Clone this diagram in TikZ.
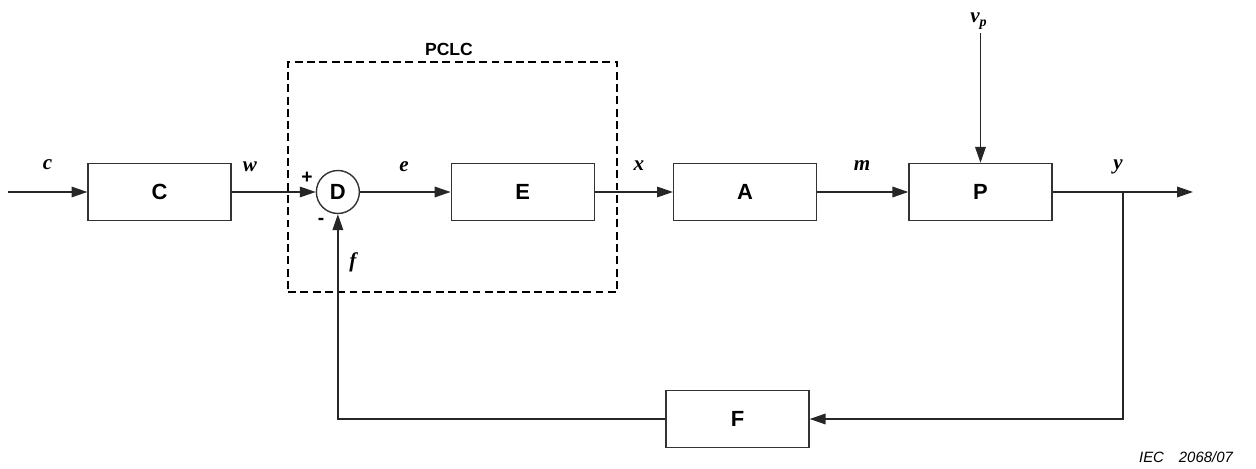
\documentclass[tikz,border=0pt]{standalone}
\usepackage{fontspec}
\setmainfont{Liberation Serif}
\setsansfont{Liberation Sans}
\usepackage{tikz}
\usetikzlibrary{arrows.meta, positioning}

\begin{document}
\begin{tikzpicture}[
    x=0.02cm, y=-0.02cm,
    node distance=1.7cm,
    block/.style={draw=black!80, line width=0.8pt, rectangle, minimum height=1.14cm, minimum width=2.86cm, inner sep=0pt, font=\fontsize{12.5}{14}\selectfont\sffamily\bfseries},
    sum/.style={draw=black!80, line width=0.8pt, circle, minimum size=0.86cm, inner sep=0pt, font=\fontsize{12.5}{14}\selectfont\sffamily\bfseries},
    frame/.style={draw, line width=1.2pt, dash pattern=on 4.5pt off 2.5pt, rectangle, minimum width=6.58cm, minimum height=4.6cm, inner sep=0pt},
    sig/.style={anchor=base, inner sep=0pt, font=\fontsize{12}{14}\selectfont\bfseries\itshape},
    sign/.style={inner sep=0pt, font=\fontsize{11}{13}\selectfont\sffamily\bfseries},
    ttl/.style={inner sep=0pt, font=\fontsize{10}{12}\selectfont\sffamily\bfseries},
    note/.style={inner sep=0pt, font=\fontsize{8.5}{10}\selectfont\sffamily\itshape},
    line/.style={draw=black!85, line width=0.8pt, -{Triangle[length=9pt,width=6pt]}}
]
    \useasboundingbox (0,0) rectangle (1256,469);

    % PCLC frame
    \node[frame] (pclc) at (452.5,177) {};
    \node[ttl] (lpclc) at (449,49) {PCLC};

    % Forward path
    \node[block] (C) at (159.5,192) {C};
    \node[sum, right=1.68cm of C] (D) {D};
    \node[block, right=1.81cm of D] (E) {E};
    \node[block, right=1.56cm of E] (A) {A};
    \node[block, right=1.82cm of A] (P) {P};
    \node[block] (F) at (737.5,419) {F};

    \coordinate (in) at (8,192);
    \coordinate (split) at (1123,192);
    \coordinate (out) at (1193,192);
    \coordinate (dist) at (P.north |- 0,33);

    \draw[line] (in) -- (C);
    \draw[line] (C) -- (D);
    \draw[line] (D) -- (E);
    \draw[line] (E) -- (A);
    \draw[line] (A) -- (P);
    \draw[line] (dist) -- (P);
    \draw[line] (P) -- (out);

    % Feedback
    \draw[line] (split) |- (F);
    \draw[line] (F) -| (D);

    % Signals
    \node[sig] (lc) at (47.5,170) {c};
    \node[sig] (lw) at (250,172) {w};
    \node[sig] (le) at (404,172) {e};
    \node[sig] (lx) at (639,171) {x};
    \node[sig] (lm) at (862,171) {m};
    \node[sig] (ly) at (1118,170) {y};
    \node[sig] (lf) at (353,268) {f};
    \node[sig] (lv) at (979,23) {v\textsubscript{p}};
    \node[sign] (plus) at (307,178) {+};
    \node[sign] (minus) at (321,221) {-};

    \node[note] (iec) at (1186,457) {IEC\hspace{1em}2068/07};
\end{tikzpicture}
\end{document}
